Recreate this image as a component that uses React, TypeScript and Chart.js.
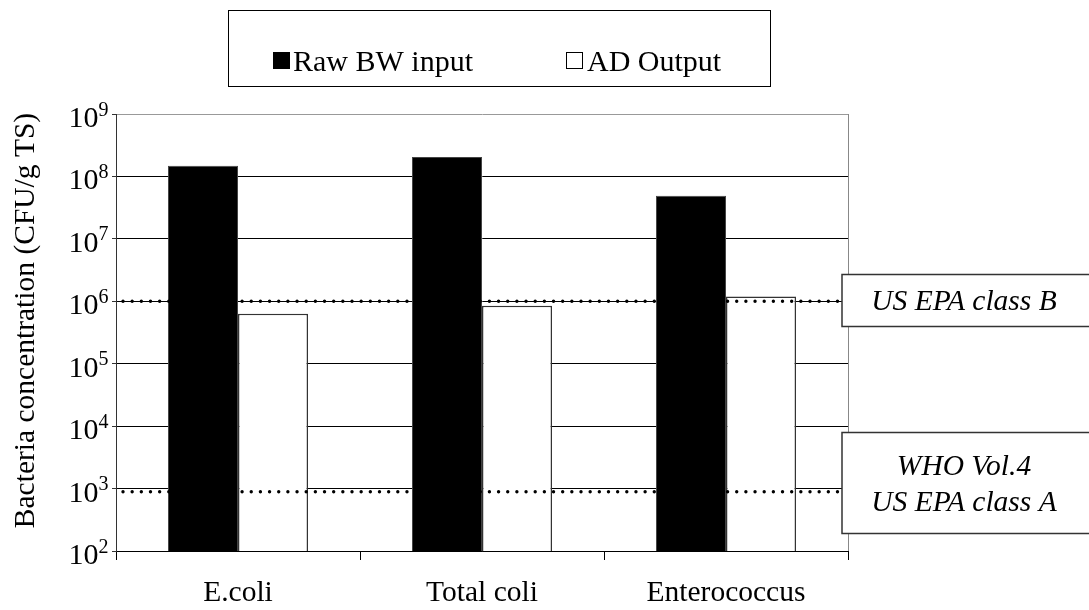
import React, { useEffect, useRef } from "react";
import { Chart, registerables } from "chart.js";

Chart.register(...registerables);

const categories = ["E.coli", "Total coli", "Enterococcus"];
const seriesNames = ["Raw BW input", "AD Output"];
const rawBW = [1.48e8, 2.04e8, 4.9e7];
const adOutput = [6.3e5, 8.5e5, 1.19e6];
const yExponents = [2, 3, 4, 5, 6, 7, 8, 9];
const limitValues = [1e6, 890];
const limitLabels = [["US EPA class B"], ["WHO Vol.4", "US EPA class A"]];
const yTitle = "Bacteria concentration (CFU/g TS)";

const FONT = "'Liberation Serif', 'Times New Roman', serif";

const overlayPlugin = {
  id: "overlay",
  afterDatasetsDraw(chart: any) {
    const { ctx, chartArea } = chart;
    const y = chart.scales.y;
    ctx.save();
    // right border of plot
    ctx.strokeStyle = "#888";
    ctx.lineWidth = 1;
    ctx.beginPath();
    ctx.moveTo(Math.round(chartArea.right) + 0.5, chartArea.top);
    ctx.lineTo(Math.round(chartArea.right) + 0.5, chartArea.bottom);
    ctx.stroke();

    // dotted limit lines
    ctx.strokeStyle = "#000";
    ctx.lineWidth = 3.4;
    ctx.lineCap = "round";
    ctx.setLineDash([0.01, 9.15]);
    limitValues.forEach((v) => {
      const py = y.getPixelForValue(v);
      ctx.beginPath();
      ctx.moveTo(chartArea.left + 7, py);
      ctx.lineTo(842, py);
      ctx.stroke();
    });
    ctx.setLineDash([]);
    ctx.restore();
  },
  afterDraw(chart: any) {
    const { ctx, chartArea } = chart;
    const y = chart.scales.y;
    ctx.save();
    // y tick labels with superscripts
    ctx.fillStyle = "#000";
    yExponents.forEach((e) => {
      const py = y.getPixelForValue(Math.pow(10, e));
      ctx.font = `30px ${FONT}`;
      ctx.textAlign = "right";
      ctx.textBaseline = "alphabetic";
      ctx.fillText("10", 98.5, py + 13);
      ctx.font = `20px ${FONT}`;
      ctx.textAlign = "left";
      ctx.fillText(String(e), 98.5, py + 1.5);
    });

    // y axis title
    ctx.save();
    ctx.translate(26, (chartArea.top + chartArea.bottom) / 2 - 12);
    ctx.rotate(-Math.PI / 2);
    ctx.font = `29.5px ${FONT}`;
    ctx.textAlign = "center";
    ctx.textBaseline = "middle";
    ctx.fillText(yTitle, 0, 0);
    ctx.restore();

    // legend box
    ctx.strokeStyle = "#000";
    ctx.lineWidth = 1;
    ctx.strokeRect(228.5, 10.5, 542, 76);
    const ds = chart.data.datasets;
    const items = [
      { x: 273, tx: 293 },
      { x: 566, tx: 587 },
    ];
    ds.forEach((d: any, i: number) => {
      const it = items[i];
      ctx.fillStyle = d.backgroundColor;
      ctx.fillRect(it.x, 52, 17, 17);
      ctx.strokeStyle = "#000";
      ctx.lineWidth = 1;
      ctx.strokeRect(it.x + 0.5, 52.5, 16, 16);
      ctx.fillStyle = "#000";
      ctx.font = `30px ${FONT}`;
      ctx.textAlign = "left";
      ctx.textBaseline = "alphabetic";
      ctx.fillText(d.label, it.tx, 71);
    });

    // annotation boxes
    const boxes = [
      { top: -27.7, bottom: 24.3, baselines: [9] },
      { top: -59.7, bottom: 41.3, baselines: [-16.5, 19] },
    ];
    limitValues.forEach((v, i) => {
      const py = y.getPixelForValue(v);
      const b = boxes[i];
      const t = Math.round(py + b.top) + 0.5;
      const h = Math.round(b.bottom - b.top);
      ctx.fillStyle = "#fff";
      ctx.fillRect(842, t, 260, h);
      ctx.strokeStyle = "#333";
      ctx.lineWidth = 1.5;
      ctx.strokeRect(842, t, 260, h);
      ctx.fillStyle = "#000";
      ctx.font = `italic 29.5px ${FONT}`;
      ctx.textAlign = "center";
      ctx.textBaseline = "alphabetic";
      limitLabels[i].forEach((s, j) => {
        ctx.fillText(s, 964, py + b.baselines[j]);
      });
    });
    ctx.restore();
  },
};

export default function App() {
  const ref = useRef<HTMLCanvasElement | null>(null);
  useEffect(() => {
    if (!ref.current) return;
    Chart.defaults.font.family = FONT;
    const chart = new Chart(ref.current, {
      type: "bar",
      data: {
        labels: categories,
        datasets: [
          {
            label: seriesNames[0],
            data: rawBW,
            backgroundColor: "#000",
            borderColor: "#444",
            borderWidth: 1,
            categoryPercentage: 0.574,
            barPercentage: 1,
          },
          {
            label: seriesNames[1],
            data: adOutput,
            backgroundColor: "#fff",
            borderColor: "#333",
            borderWidth: 1.5,
            categoryPercentage: 0.574,
            barPercentage: 1,
          },
        ],
      },
      options: {
        responsive: false,
        animation: false,
        devicePixelRatio: 1,
        layout: { padding: { top: 114, right: 241, left: 0, bottom: 0 } },
        plugins: {
          legend: { display: false },
          title: { display: false },
          tooltip: { enabled: false },
        },
        scales: {
          x: {
            grid: {
              drawOnChartArea: false,
              drawTicks: true,
              tickLength: 9,
              color: "#000",
              offset: true,
            },
            border: { color: "#000", width: 1 },
            ticks: {
              color: "#000",
              font: { size: 29.5, family: FONT },
              padding: 16,
              maxRotation: 0,
            },
            afterFit: (s: any) => {
              s.height = 59;
            },
          },
          y: {
            type: "logarithmic",
            min: 100,
            max: 1e9,
            grid: {
              color: (c: any) => (c.tick && c.tick.value === 1e9 ? "#999" : "#000"),
              tickColor: "#333",
              tickLength: 4,
              drawTicks: true,
            },
            border: { color: "#333", width: 1 },
            ticks: { display: false },
            afterBuildTicks: (s: any) => {
              s.ticks = yExponents.map((e) => ({ value: Math.pow(10, e) }));
            },
            afterFit: (s: any) => {
              s.width = 116;
            },
          },
        },
      },
      plugins: [overlayPlugin],
    });
    return () => chart.destroy();
  }, []);
  return (
    <div style={{ position: "absolute", left: 0, top: 0, width: 1089, height: 610, background: "#fff" }}>
      <canvas ref={ref} width={1089} height={610} style={{ display: "block" }} />
    </div>
  );
}
